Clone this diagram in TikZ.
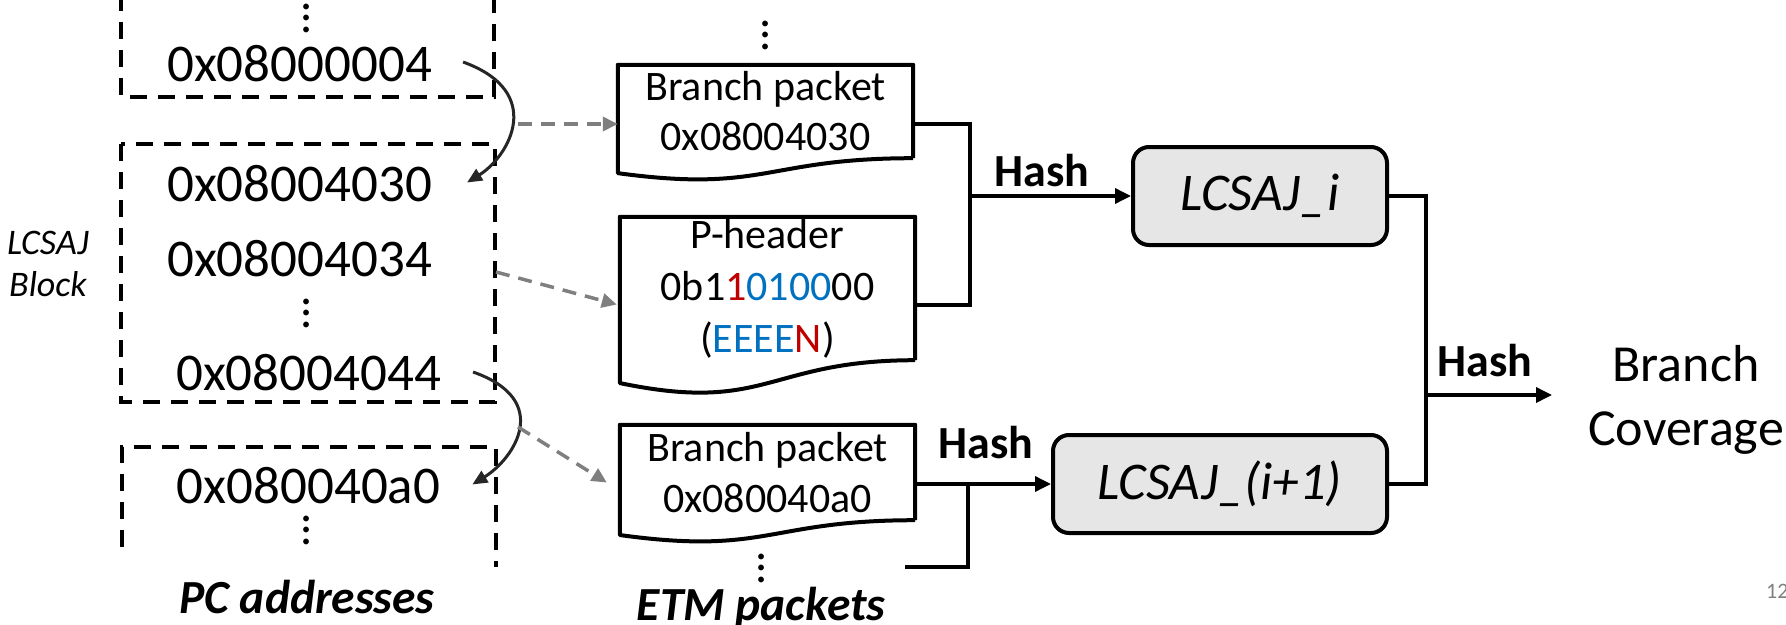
\documentclass[tikz,border=0pt]{standalone}
\usepackage{fontspec}
\setmainfont{Carlito}
\usetikzlibrary{arrows.meta,calc}
\definecolor{pblue}{HTML}{0070C0}
\definecolor{pred}{HTML}{C00000}
\definecolor{dgray}{HTML}{7F7F7F}
\definecolor{boxfill}{HTML}{E7E6E6}
\definecolor{curvec}{HTML}{262626}
\definecolor{pagegray}{HTML}{808080}

\begin{document}
\begin{tikzpicture}[x=1pt,y=-1pt,
  addr/.style={inner sep=0pt, font=\fontsize{53}{64}\selectfont},
  vdot/.style={inner sep=0pt, align=center, font=\fontsize{48}{11.5}\selectfont},
  pkt/.style={inner sep=0pt, minimum width=295pt, align=center},
  pktline/.style={draw, line width=4pt, line join=round},
  dbox/.style={draw, line width=4pt, dash pattern=on 17pt off 11pt},
  lbox/.style={draw, line width=4pt, fill=boxfill, rounded corners=16pt,
    minimum height=98pt, inner sep=0pt, font=\itshape\fontsize{53}{60}\selectfont},
  wire/.style={draw, line width=3.5pt},
  tip/.style={-{Triangle[length=16pt,width=15pt]}},
  gline/.style={draw=dgray, line width=3.5pt, dash pattern=on 14pt off 9pt,
    -{Triangle[length=15pt,width=14pt]}},
  cline/.style={draw=curvec, line width=3pt, -{Triangle[length=15pt,width=13pt]}},
  hash/.style={inner sep=0pt, font=\bfseries\fontsize{46}{52}\selectfont},
  caption/.style={inner sep=0pt, anchor=base, font=\bfseries\itshape\fontsize{47.5}{54}\selectfont}
]
\useasboundingbox (0,0) rectangle (1786,624);

% ---------- PC address column ----------
\draw[dbox] (121,-6) -- (121,97) -- (494,97) -- (494,-6);
\draw[dbox] (121,144) rectangle (495,402);
\draw[dbox] (122,547) -- (122,447) -- (496,447) -- (496,567);

\node[vdot] (d1) at (307,18) {.\\.\\.};
\node[addr] (a1) at (299.5,64) {0x08000004};
\node[addr] (a2) at (299.5,183.5) {0x08004030};
\node[addr] (a3) at (299.5,258.5) {0x08004034};
\node[vdot] (d2) at (307,313) {.\\.\\.};
\node[addr] (a4) at (308.5,373) {0x08004044};
\node[addr] (a5) at (308.5,485.5) {0x080040a0};
\node[vdot] (d3) at (307,530) {.\\.\\.};

\node[inner sep=0pt, align=center, font=\itshape\fontsize{36}{42}\selectfont]
  (blk) at (48,264) {LCSAJ\\Block};
\node[caption] (pc) at (307,613) {PC addresses};

% jumps between blocks
\draw[cline] ($(a1.east)+(31,-2)$) .. controls +(83,30) and +(42,-26) .. ($(a2.east)+(35,-1)$);
\draw[cline] ($(a4.east)+(32,-1)$) .. controls +(80,28) and +(42,-26) .. ($(a5.east)+(32,-1)$);

% ---------- ETM packets ----------
\node[vdot] (d4) at (766,35) {.\\.\\.};
\node[pkt, minimum height=93pt, font=\fontsize{42}{50}\selectfont] (p1) at (765.5,111.5)
  {Branch packet\\0x08004030};
\node[pkt, minimum height=143pt, font=\fontsize{42}{52}\selectfont] (p2) at (767.5,288.5)
  {P-header\\0b1\textcolor{pred}{1}\textcolor{pblue}{0100}00\\(\textcolor{pblue}{EEEE}\textcolor{pred}{N})};
\node[pkt, minimum height=95pt, font=\fontsize{42}{51}\selectfont] (p3) at (767.5,472.5)
  {Branch packet\\0x080040a0};
\node[vdot] (d5) at (762,568) {.\\.\\.};
\node[caption] (etm) at (761,620) {ETM packets};

% document outlines with wavy bottom edge
\foreach \n/\h in {p1/116,p2/178,p3/118}{
  \draw[pktline] (\n.south east) -- (\n.north east) -- (\n.north west)
    -- ($(\n.north west)+(0,0.934*\h)$)
    .. controls ($(\n.north)+(0,1.1075*\h)$) and (\n.south) .. (\n.south east);
}

% trace links
\coordinate (g1) at (518,124);
\coordinate (g2) at (496,272);
\coordinate (g3) at (518,427);
\draw[gline] (g1) -- (g1 -| p1.west);
\draw[gline] (g2) -- ($(p2.west)+(-3,16)$);
\draw[gline] (g3) -- ($(p3.west)+(-13,10)$);

% ---------- LCSAJ blocks ----------
\node[lbox, minimum width=254pt] (li) at (1260,196) {LCSAJ\_i};
\node[lbox, minimum width=334pt] (li1) at (1220,484) {LCSAJ\_(i+1)};

\coordinate (b1) at (970,124);
\coordinate (b2) at (970,305);
\coordinate (j1) at (970,196);
\draw[wire] (p1.east |- b1) -- (b1) -- (b2) -- (p2.east |- b2);
\draw[wire,tip] (j1) -- (li.west |- j1);
\node[hash] (h1) at (1042,171) {Hash};

\coordinate (j3) at (968,484);
\coordinate (t3) at (905,567);
\draw[wire,tip] (p3.east |- li1.west) -- (li1.west);
\draw[wire] (j3) |- (t3);
\node[hash] (h2) at (986,443) {Hash};

% ---------- branch coverage ----------
\coordinate (j4) at (1426,395);
\coordinate (bc) at (1552,395);
\draw[wire] (li.east) -| (j4 |- li1.east) -- (li1.east);
\draw[wire,tip] (j4) -- (bc);
\node[hash] (h3) at (1485,361) {Hash};
\node[inner sep=0pt, align=center, font=\fontsize{52}{64}\selectfont] (cov) at (1686,400)
  {Branch\\Coverage};

\node[inner sep=0pt, anchor=west, text=pagegray, font=\fontsize{22}{26}\selectfont] (pg) at (1766,591) {12};
\end{tikzpicture}
\end{document}
